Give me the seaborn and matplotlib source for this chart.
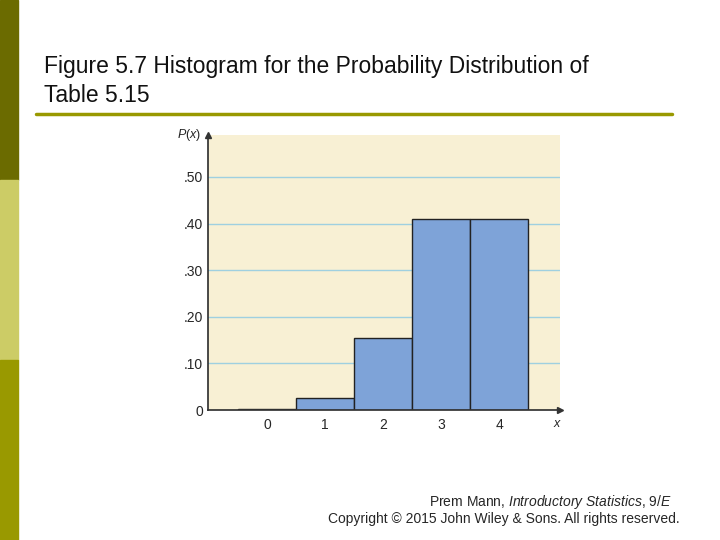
import matplotlib
matplotlib.use("Agg")
import matplotlib.pyplot as plt
import seaborn as sns
import pandas as pd

xs = [0, 1, 2, 3, 4]
probs = [0.0016, 0.0256, 0.1536, 0.4096, 0.4096]
ytick_vals = [0, 0.1, 0.2, 0.3, 0.4, 0.5]
ytick_labels = ["0", ".10", ".20", ".30", ".40", ".50"]

sns.set_theme(style="white")
plt.rcParams['font.family'] = ['Liberation Sans', 'DejaVu Sans']
plt.rcParams['mathtext.fontset'] = 'custom'
plt.rcParams['mathtext.it'] = 'Liberation Sans:italic'
plt.rcParams['mathtext.rm'] = 'Liberation Sans'
fig = plt.figure(figsize=(7.2, 5.4), dpi=100)

# sidebar
for y0, c in [(360, "#6b6b00"), (180, "#cccc66"), (0, "#999900")]:
    fig.patches.append(plt.Rectangle((0, y0/540), 18/720, 180/540, transform=fig.transFigure, color=c, zorder=0))
fig.text(44/720, 1-66/540, "Figure 5.7 Histogram for the Probability Distribution of", fontsize=16.5, va="center", color="#111")
fig.text(44/720, 1-96/540, "Table 5.15", fontsize=16.5, va="center", color="#111")
fig.lines.append(plt.Line2D([36/720, 672/720], [1-114/540]*2, transform=fig.transFigure, color="#999900", lw=2.5))
fig.text(672/720, 1-502/540, "Prem Mann, $\\it{Introductory\\ Statistics}$, $\\it{9/E}$", ha="right", va="center", fontsize=10)
fig.text(680/720, 1-519/540, "Copyright © 2015 John Wiley & Sons. All rights reserved.", ha="right", va="center", fontsize=10)

ax = fig.add_axes([208/720, 130/540, 352/720, 275/540])
ax.set_facecolor("#f8f0d4")
df = pd.DataFrame({"x": xs, "p": probs})
for v in ytick_vals[1:]:
    ax.axhline(v, color="#9fd0e0", lw=1, zorder=0)
sns.barplot(data=df, x="x", y="p", width=1.0, color="#7ea3d8", saturation=1,
            edgecolor="#222", linewidth=1, ax=ax, zorder=2)
ax.set_xlim(-1.02, 5.05)
ax.set_ylim(0, 0.59)
ax.set_yticks(ytick_vals)
ax.set_yticklabels(ytick_labels, fontsize=10)
ax.tick_params(axis="x", labelsize=10, length=0, pad=6)
ax.tick_params(axis="y", length=0)
ax.set_xlabel(""); ax.set_ylabel("")
for s in ["top", "right"]:
    ax.spines[s].set_visible(False)
for s in ["left", "bottom"]:
    ax.spines[s].set_color("#333")
ax.plot(0, 1, "^", color="#333", ms=5, transform=ax.transAxes, clip_on=False)
ax.plot(1, 0, ">", color="#333", ms=5, transform=ax.transAxes, clip_on=False)
ax.text(-0.02, 1.0, "$P(x)$", transform=ax.transAxes, ha="right", va="center", fontsize=9)
ax.text(0.98, -0.05, "$x$", transform=ax.transAxes, ha="left", va="center", fontsize=9)
fig.savefig("out.png", dpi=100)
